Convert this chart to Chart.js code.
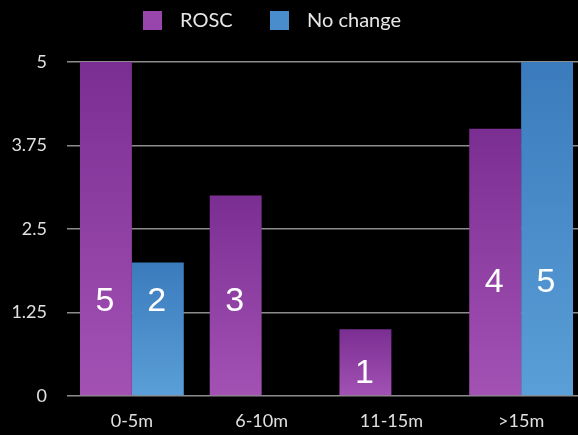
<!DOCTYPE html>
<html>
<head>
<meta charset="utf-8">
<script src="https://cdn.jsdelivr.net/npm/chart.js"></script>
<style>
    html, body { margin: 0; padding: 0; background: #000; overflow: hidden; }
    #wrap { width: 590px; height: 435px; }
</style>
</head>
<body>
<div id="wrap"><canvas id="chart" width="590" height="435"></canvas></div>
<script>
    // ▼ 데이터
    const categories = ["0-5m", "6-10m", "11-15m", ">15m"];
    const roscValues = [5, 3, 1, 4];
    const noChangeValues = [2, null, null, 5];
    const yTicks = [0, 1.25, 2.5, 3.75, 5];
    // 막대 안 숫자 라벨 높이 (값 단위)
    const roscLabelAt = [1.44, 1.44, 0.37, 1.72];
    const noChangeLabelAt = [1.44, null, null, 1.72];

    const seriesNames = ["ROSC", "No change"];
    const palette = {
        rosc: ['#7b2e92', '#a352b4'],
        noChange: ['#3b7bbd', '#5a9fd7']
    };

    // ▼ 막대마다 위→아래 그라데이션
    function barGradient(colors) {
        return (ctx) => {
            const chart = ctx.chart;
            const area = chart.chartArea;
            if (!area || ctx.type !== 'data' || ctx.raw == null) return colors[1];
            const y = chart.scales.y;
            const top = y.getPixelForValue(ctx.raw);
            const bottom = y.getPixelForValue(0);
            if (!(bottom > top)) return colors[1];
            const g = chart.ctx.createLinearGradient(0, top, 0, bottom);
            g.addColorStop(0, colors[0]);
            g.addColorStop(1, colors[1]);
            return g;
        };
    }

    // ▼ 범례 (상단 중앙)
    const legendPlugin = {
        id: 'topLegend',
        afterDraw(chart) {
            const c = chart.ctx;
            const items = [
                { text: seriesNames[0], color: '#9845ac', x: 143 },
                { text: seriesNames[1], color: '#4a8dcc', x: 270 }
            ];
            c.save();
            c.font = '20px Lato';
            c.textBaseline = 'middle';
            items.forEach(it => {
                c.fillStyle = it.color;
                c.fillRect(it.x, 11, 19, 19);
                c.fillStyle = '#e6e6e6';
                c.fillText(it.text, it.x + 37, 21);
            });
            c.restore();
        }
    };

    // ▼ 막대 안 값 라벨
    const valueLabelPlugin = {
        id: 'valueLabels',
        afterDatasetsDraw(chart) {
            const c = chart.ctx;
            const y = chart.scales.y;
            const labelAt = [roscLabelAt, noChangeLabelAt];
            c.save();
            c.font = '34px "Liberation Sans", Arial, sans-serif';
            c.fillStyle = '#ffffff';
            c.textAlign = 'center';
            c.textBaseline = 'middle';
            chart.data.datasets.forEach((ds, di) => {
                const meta = chart.getDatasetMeta(di);
                meta.data.forEach((bar, i) => {
                    const v = ds.data[i];
                    const at = labelAt[di][i];
                    if (v == null || at == null) return;
                    c.fillText(String(v), bar.x - 1, y.getPixelForValue(at) + 2);
                });
            });
            c.restore();
        }
    };

    const ctx = document.getElementById('chart').getContext('2d');
    const chart = new Chart(ctx, {
        type: 'bar',
        data: {
            labels: categories,
            datasets: [
                { label: seriesNames[0], data: roscValues, backgroundColor: barGradient(palette.rosc),
                  categoryPercentage: 0.8, barPercentage: 1.0 },
                { label: seriesNames[1], data: noChangeValues, backgroundColor: barGradient(palette.noChange),
                  categoryPercentage: 0.8, barPercentage: 1.0 }
            ]
        },
        options: {
            responsive: false,
            animation: false,
            layout: { padding: { top: 62, right: 4, left: 0, bottom: 0 } },
            plugins: { legend: { display: false }, tooltip: { enabled: false } },
            scales: {
                x: {
                    grid: { display: false },
                    border: { display: false },
                    ticks: { color: '#e0e0e0', font: { family: 'Lato', size: 18 }, padding: 6 },
                    afterFit: s => { s.height = 39; }
                },
                y: {
                    min: 0,
                    max: 5,
                    afterBuildTicks: s => { s.ticks = yTicks.map(v => ({ value: v })); },
                    grid: { color: '#8c8c8c', lineWidth: 1.5, drawTicks: false },
                    border: { display: false },
                    ticks: {
                        color: '#e0e0e0',
                        font: { family: 'Lato', size: 18 },
                        padding: 20,
                        callback: v => String(v)
                    },
                    afterFit: s => { s.width = 67; }
                }
            }
        },
        plugins: [valueLabelPlugin, legendPlugin]
    });
</script>
</body>
</html>
